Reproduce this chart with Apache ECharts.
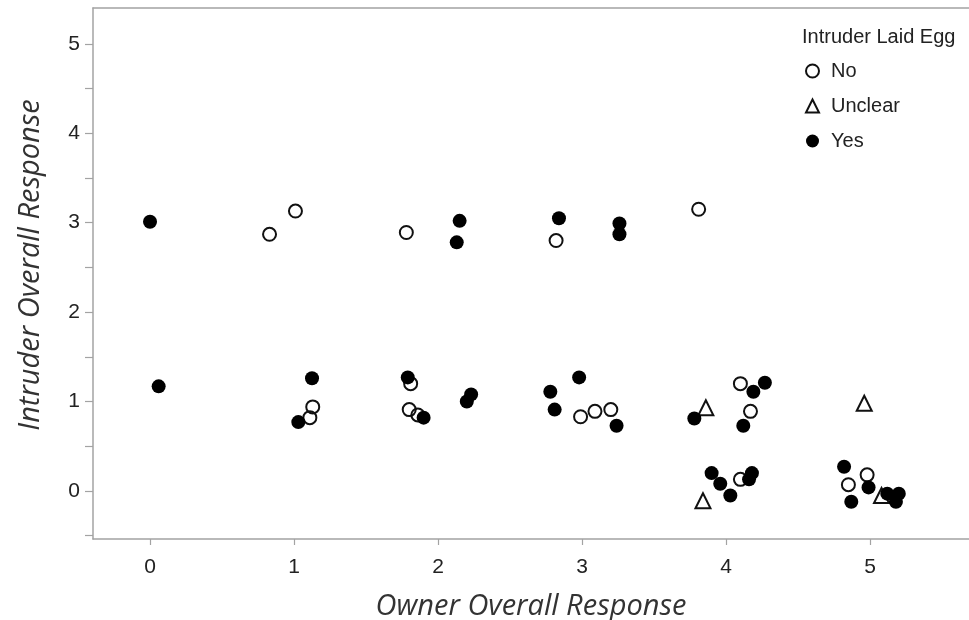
<!DOCTYPE html>
<html>
<head>
<meta charset="utf-8">
<script src="https://cdn.jsdelivr.net/npm/echarts@6/dist/echarts.min.js"></script>
<style>html,body{margin:0;padding:0;background:#fff}#c{width:969px;height:620px}</style>
</head>
<body>
<div id="c"></div>
<script>
// Data: [owner overall response, intruder overall response] (jittered as in source)
const noPoints = [
  [0.83,2.87],[1.01,3.13],[1.78,2.89],[2.82,2.80],[3.81,3.15],
  [1.13,0.94],[1.11,0.82],[1.81,1.20],[1.80,0.91],[1.86,0.85],
  [2.99,0.83],[3.09,0.89],[3.20,0.91],
  [4.10,1.20],[4.17,0.89],
  [4.10,0.13],[4.98,0.18],[4.85,0.07]
];
const unclearPoints = [
  [3.86,0.93],[3.84,-0.11],[4.96,0.98],[5.08,-0.05]
];
const yesPoints = [
  [0.00,3.01],[2.15,3.02],[2.13,2.78],[2.84,3.05],[3.26,2.99],[3.26,2.87],
  [0.06,1.17],[1.125,1.26],[1.03,0.77],[1.79,1.27],[1.90,0.82],
  [2.23,1.08],[2.20,1.00],[2.78,1.11],[2.98,1.27],[2.81,0.91],[3.24,0.73],
  [3.78,0.81],[4.19,1.11],[4.27,1.21],[4.12,0.73],
  [3.90,0.20],[3.96,0.08],[4.03,-0.05],[4.16,0.13],[4.18,0.20],
  [4.82,0.27],[4.99,0.04],[4.87,-0.12],[5.12,-0.03],[5.20,-0.03],[5.18,-0.12]
];
const xTicks = [0,1,2,3,4,5];
const yLabels = [0,1,2,3,4,5];
const yTicks = [-0.5,0,0.5,1,1.5,2,2.5,3,3.5,4,4.5,5];
const seriesNames = ['No','Unclear','Yes'];
const legendTitle = 'Intruder Laid Egg';
const xTitle = 'Owner Overall Response';
const yTitle = 'Intruder Overall Response';

const axisColor = '#a3a3a3';
const sans = 'Liberation Sans, Arial, sans-serif';
const chart = echarts.init(document.getElementById('c'), null, {renderer:'canvas'});
chart.setOption({
  animation: false,
  backgroundColor: '#fff',
  grid: {left: 93, right: 0, top: 8, bottom: 81, containLabel: false, outerBoundsMode: 'none'},
  title: {
    text: legendTitle, left: 797, top: 22,
    textStyle: {fontFamily: sans, fontSize: 20, fontWeight: 'normal', color: '#222'}
  },
  legend: {
    orient: 'vertical', left: 800, top: 56,
    itemWidth: 13, itemHeight: 13, itemGap: 15,
    data: seriesNames,
    textStyle: {fontFamily: sans, fontSize: 20, color: '#222', padding: [0,0,0,7]}
  },
  xAxis: [{
    type: 'value', min: -0.396, max: 5.6875, position: 'bottom',
    name: xTitle, nameLocation: 'middle', nameGap: 53,
    nameTextStyle: {fontFamily: 'Open Sans, sans-serif', fontStyle: 'italic', fontSize: 29, color: '#333'},
    axisLine: {show: true, onZero: false, lineStyle: {color: axisColor, width: 1.5}},
    axisTick: {show: true, length: 6, lineStyle: {color: axisColor, width: 1.2}, customValues: xTicks},
    axisLabel: {margin: 18, fontFamily: sans, fontSize: 21, color: '#222', customValues: xTicks},
    splitLine: {show: false}
  },{
    type: 'value', min: -0.396, max: 5.6875, position: 'top',
    axisLine: {show: true, onZero: false, lineStyle: {color: axisColor, width: 1.5}},
    axisTick: {show: false}, axisLabel: {show: false}, splitLine: {show: false}
  }],
  yAxis: {
    type: 'value', min: -0.537, max: 5.40,
    name: yTitle, nameLocation: 'middle', nameGap: 48, nameRotate: 90,
    nameTextStyle: {fontFamily: 'Open Sans, sans-serif', fontStyle: 'italic', fontSize: 29, color: '#333', padding: [0,0,0,17]},
    axisLine: {show: true, onZero: false, lineStyle: {color: axisColor, width: 1.5}},
    axisTick: {show: true, length: 8, lineStyle: {color: axisColor, width: 1.2}, customValues: yTicks},
    axisLabel: {margin: 13, fontFamily: sans, fontSize: 21, color: '#222', customValues: yLabels},
    splitLine: {show: false}
  },
  series: [
    {name: seriesNames[0], type: 'scatter', data: noPoints, symbol: 'circle', symbolSize: 13,
     itemStyle: {color: 'rgba(255,255,255,0)', borderColor: '#111', borderWidth: 2, opacity: 1}, z: 2},
    {name: seriesNames[1], type: 'scatter', data: unclearPoints, symbol: 'triangle', symbolSize: [15,15],
     itemStyle: {color: 'rgba(255,255,255,0)', borderColor: '#111', borderWidth: 2, opacity: 1}, z: 3},
    {name: seriesNames[2], type: 'scatter', data: yesPoints, symbol: 'circle', symbolSize: 14,
     itemStyle: {color: '#000', opacity: 1}, z: 4}
  ]
});
</script>
</body>
</html>
